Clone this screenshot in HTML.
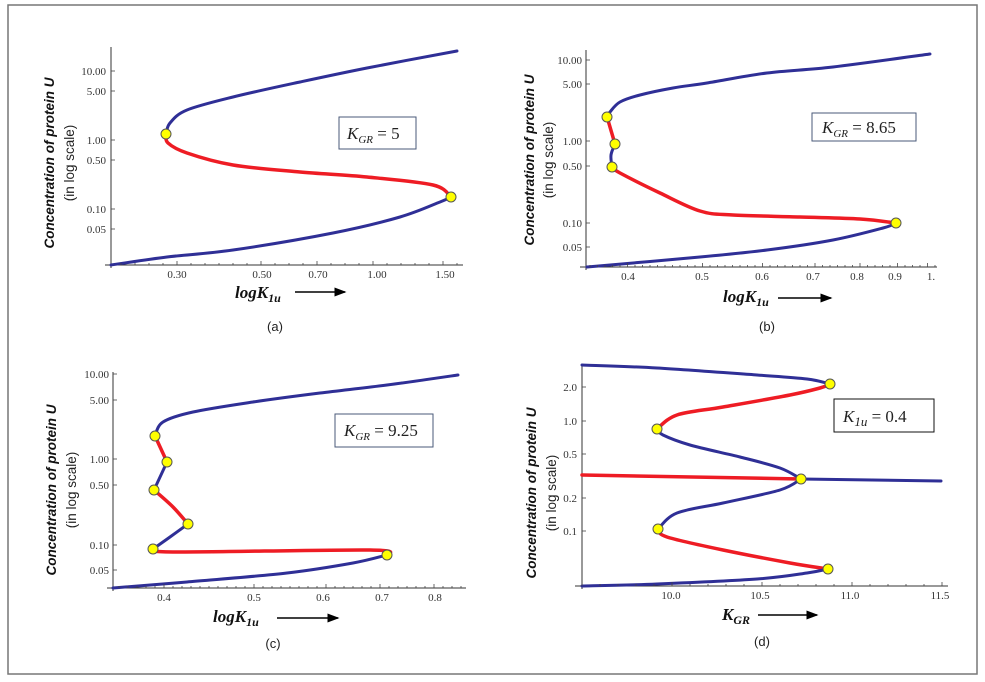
<!DOCTYPE html>
<html><head><meta charset="utf-8"><style>
body{margin:0;background:#fff}
svg{display:block}
.ax{stroke:#333;stroke-width:1;fill:none}
.tk{stroke:#444;stroke-width:0.8}
.b{stroke:#2f2f96;stroke-width:3;fill:none;stroke-linecap:round;stroke-linejoin:round}
.r{stroke:#ee1c24;stroke-width:3.5;fill:none;stroke-linecap:round;stroke-linejoin:round}
.d{fill:#ffff00;stroke:#555;stroke-width:1}
.t{font-family:"Liberation Serif",serif;font-size:11px;fill:#333}
.yl{font-family:"Liberation Sans",sans-serif;font-size:13.5px;font-weight:bold;font-style:italic;fill:#111}
.yl2{font-family:"Liberation Sans",sans-serif;font-size:13.5px;fill:#222}
.xl{font-family:"Liberation Serif",serif;font-size:17px;font-weight:bold;font-style:italic;fill:#111}
.cap{font-family:"Liberation Sans",sans-serif;font-size:13px;fill:#222}
.bx{font-family:"Liberation Serif",serif;font-size:17px;fill:#222}
</style></head><body>
<svg id="s" width="985" height="682" viewBox="0 0 985 682">
<defs><marker id="ar" markerWidth="8" markerHeight="6" refX="7" refY="3" orient="auto"><path d="M0,0 L8,3 L0,6 z" fill="#000"/></marker></defs>
<rect x="8" y="5" width="969" height="669" fill="none" stroke="#777" stroke-width="1.5"/>

<!-- Panel a -->
<line class="ax" x1="111" y1="47" x2="111" y2="268"/>
<line class="ax" x1="105" y1="265" x2="463" y2="265"/>
<g class="t" text-anchor="end">
<text x="106" y="75">10.00</text><text x="106" y="95">5.00</text><text x="106" y="144">1.00</text><text x="106" y="164">0.50</text><text x="106" y="213">0.10</text><text x="106" y="233">0.05</text></g>
<g class="t" text-anchor="middle"><text x="177" y="278">0.30</text><text x="262" y="278">0.50</text><text x="318" y="278">0.70</text><text x="377" y="278">1.00</text><text x="445" y="278">1.50</text></g>
<polyline class="b" points="166,134 170,123 187,110 233,97 300,82 367,68 457,51"/>
<polyline class="r" points="166,134 168,143 187,153 233,165 300,172 367,177 433,185 451,197"/>
<polyline class="b" points="451,197 440,202 400,217 333,233 233,250 167,257 111,265"/>
<circle class="d" cx="166" cy="134" r="5"/><circle class="d" cx="451" cy="197" r="5"/>
<rect x="339" y="117" width="77" height="32" fill="#fff" stroke="#4a5a7a"/>
<text class="bx" x="347" y="139"><tspan font-style="italic">K</tspan><tspan font-size="11" font-style="italic" dy="4">GR</tspan><tspan dy="-4"> = 5</tspan></text>
<text class="yl" transform="translate(54,163) rotate(-90)" text-anchor="middle">Concentration of protein U</text>
<text class="yl2" transform="translate(74,163) rotate(-90)" text-anchor="middle">(in log scale)</text>
<text class="xl" x="235" y="298">logK<tspan font-size="12" dy="4">1u</tspan></text>
<line x1="295" y1="292" x2="345" y2="292" stroke="#000" stroke-width="1.5" marker-end="url(#ar)"/>
<text class="cap" x="275" y="331" text-anchor="middle">(a)</text>

<!-- Panel b -->
<line class="ax" x1="586" y1="50" x2="586" y2="270"/>
<line class="ax" x1="580" y1="267" x2="937" y2="267"/>
<g class="t" text-anchor="end">
<text x="582" y="64">10.00</text><text x="582" y="88">5.00</text><text x="582" y="145">1.00</text><text x="582" y="170">0.50</text><text x="582" y="227">0.10</text><text x="582" y="251">0.05</text></g>
<g class="t" text-anchor="middle"><text x="628" y="280">0.4</text><text x="702" y="280">0.5</text><text x="762" y="280">0.6</text><text x="813" y="280">0.7</text><text x="857" y="280">0.8</text><text x="895" y="280">0.9</text><text x="931" y="280">1.</text></g>
<polyline class="b" points="607,117 610,112 620,102 640,95 673,88 707,83 767,73 833,67 930,54"/>
<polyline class="r" points="607,117 610,127 615,144"/>
<polyline class="b" points="615,144 611,155 612,167"/>
<polyline class="r" points="612,167 620,173 660,193 700,211 733,215 800,217 860,219 896,223"/>
<polyline class="b" points="896,223 883,228 833,240 767,250 700,257 587,267"/>
<circle class="d" cx="607" cy="117" r="5"/><circle class="d" cx="615" cy="144" r="5"/><circle class="d" cx="612" cy="167" r="5"/><circle class="d" cx="896" cy="223" r="5"/>
<rect x="812" y="113" width="104" height="28" fill="#fff" stroke="#4a5a7a"/>
<text class="bx" x="822" y="133"><tspan font-style="italic">K</tspan><tspan font-size="11" font-style="italic" dy="4">GR</tspan><tspan dy="-4"> = 8.65</tspan></text>
<text class="yl" transform="translate(534,160) rotate(-90)" text-anchor="middle">Concentration of protein U</text>
<text class="yl2" transform="translate(553,160) rotate(-90)" text-anchor="middle">(in log scale)</text>
<text class="xl" x="723" y="302">logK<tspan font-size="12" dy="4">1u</tspan></text>
<line x1="778" y1="298" x2="831" y2="298" stroke="#000" stroke-width="1.5" marker-end="url(#ar)"/>
<text class="cap" x="767" y="331" text-anchor="middle">(b)</text>

<!-- Panel c -->
<line class="ax" x1="113" y1="372" x2="113" y2="591"/>
<line class="ax" x1="107" y1="588" x2="466" y2="588"/>
<g class="t" text-anchor="end">
<text x="109" y="378">10.00</text><text x="109" y="404">5.00</text><text x="109" y="463">1.00</text><text x="109" y="489">0.50</text><text x="109" y="549">0.10</text><text x="109" y="574">0.05</text></g>
<g class="t" text-anchor="middle"><text x="164" y="601">0.4</text><text x="254" y="601">0.5</text><text x="323" y="601">0.6</text><text x="382" y="601">0.7</text><text x="435" y="601">0.8</text></g>
<polyline class="b" points="155,436 163,422 193,412 253,402 320,393 387,385 458,375"/>
<polyline class="r" points="155,436 167,462"/>
<polyline class="b" points="167,462 154,490"/>
<polyline class="r" points="154,490 173,507 188,524"/>
<polyline class="b" points="188,524 170,537 153,549"/>
<polyline class="r" points="153,549 177,552 370,550 387,555"/>
<polyline class="b" points="387,555 353,563 287,573 187,582 113,588"/>
<circle class="d" cx="155" cy="436" r="5"/><circle class="d" cx="167" cy="462" r="5"/><circle class="d" cx="154" cy="490" r="5"/><circle class="d" cx="188" cy="524" r="5"/><circle class="d" cx="153" cy="549" r="5"/><circle class="d" cx="387" cy="555" r="5"/>
<rect x="335" y="414" width="98" height="33" fill="#fff" stroke="#4a5a7a"/>
<text class="bx" x="344" y="436"><tspan font-style="italic">K</tspan><tspan font-size="11" font-style="italic" dy="4">GR</tspan><tspan dy="-4"> = 9.25</tspan></text>
<text class="yl" transform="translate(56,490) rotate(-90)" text-anchor="middle">Concentration of protein U</text>
<text class="yl2" transform="translate(76,490) rotate(-90)" text-anchor="middle">(in log scale)</text>
<text class="xl" x="213" y="622">logK<tspan font-size="12" dy="4">1u</tspan></text>
<line x1="277" y1="618" x2="338" y2="618" stroke="#000" stroke-width="1.5" marker-end="url(#ar)"/>
<text class="cap" x="273" y="648" text-anchor="middle">(c)</text>

<!-- Panel d -->
<line class="ax" x1="582" y1="364" x2="582" y2="589"/>
<line class="ax" x1="575" y1="586" x2="948" y2="586"/>
<g class="t" text-anchor="end">
<text x="577" y="391">2.0</text><text x="577" y="425">1.0</text><text x="577" y="458">0.5</text><text x="577" y="502">0.2</text><text x="577" y="535">0.1</text></g>
<g class="t" text-anchor="middle"><text x="671" y="599">10.0</text><text x="760" y="599">10.5</text><text x="850" y="599">11.0</text><text x="940" y="599">11.5</text></g>
<polyline class="b" points="582,365 657,368 757,375 807,379 830,384"/>
<polyline class="r" points="830,384 820,388 790,395 723,407 677,415 657,429"/>
<polyline class="b" points="657,429 663,435 690,445 740,457 780,468 801,479"/>
<polyline class="b" points="801,479 941,481"/>
<polyline class="r" points="582,475 801,479"/>
<polyline class="b" points="801,479 780,490 723,503 677,513 658,529"/>
<polyline class="r" points="658,529 667,537 723,550 790,563 828,569"/>
<polyline class="b" points="828,569 807,573 757,579 657,584 582,586"/>
<circle class="d" cx="830" cy="384" r="5"/><circle class="d" cx="657" cy="429" r="5"/><circle class="d" cx="801" cy="479" r="5"/><circle class="d" cx="658" cy="529" r="5"/><circle class="d" cx="828" cy="569" r="5"/>
<rect x="834" y="399" width="100" height="33" fill="#fff" stroke="#111"/>
<text class="bx" x="843" y="422" font-size="18"><tspan font-style="italic">K</tspan><tspan font-size="13" font-style="italic" dy="4">1u</tspan><tspan dy="-4"> = 0.4</tspan></text>
<text class="yl" transform="translate(536,493) rotate(-90)" text-anchor="middle">Concentration of protein U</text>
<text class="yl2" transform="translate(556,493) rotate(-90)" text-anchor="middle">(in log scale)</text>
<text class="xl" x="722" y="620">K<tspan font-size="12" dy="4">GR</tspan></text>
<line x1="758" y1="615" x2="817" y2="615" stroke="#000" stroke-width="1.5" marker-end="url(#ar)"/>
<text class="cap" x="762" y="646" text-anchor="middle">(d)</text>
<g id="ticks"></g>
</svg>
<script>
(function(){
var NS="http://www.w3.org/2000/svg",s=document.getElementById('s');
// smooth polylines (Catmull-Rom)
s.querySelectorAll('polyline').forEach(function(pl){
  var p=pl.getAttribute('points').trim().split(/\s+/).map(function(q){return q.split(',').map(Number);});
  if(p.length<3)return;
  var d="M"+p[0][0]+","+p[0][1];
  for(var i=0;i<p.length-1;i++){
    var p0=p[i-1]||p[i],p1=p[i],p2=p[i+1],p3=p[i+2]||p2;
    var c1=[p1[0]+(p2[0]-p0[0])/6,p1[1]+(p2[1]-p0[1])/6],c2=[p2[0]-(p3[0]-p1[0])/6,p2[1]-(p3[1]-p1[1])/6];
    d+=" C"+c1[0].toFixed(1)+","+c1[1].toFixed(1)+" "+c2[0].toFixed(1)+","+c2[1].toFixed(1)+" "+p2[0]+","+p2[1];
  }
  var path=document.createElementNS(NS,'path');path.setAttribute('d',d);path.setAttribute('class',pl.getAttribute('class'));
  pl.parentNode.replaceChild(path,pl);
});
// move dots to top
s.querySelectorAll('circle').forEach(function(c){s.appendChild(c);});
var g=document.getElementById('ticks');
function ln(x1,y1,x2,y2){var l=document.createElementNS(NS,'line');l.setAttribute('x1',x1);l.setAttribute('y1',y1);l.setAttribute('x2',x2);l.setAttribute('y2',y2);l.setAttribute('class','tk');g.appendChild(l);}
function xt(ax,y,xs,step,x0,x1){for(var x=x0;x<=x1;x+=step){var maj=xs.some(function(v){return Math.abs(v-x)<step/2;});ln(x,y,x,y-(maj?4:2));}}
function yt(x,ys){ys.forEach(function(y){ln(x,y,x+4,y);});}
yt(111,[71,91,140,160,209,229]);yt(586,[60,84,141,166,223,247]);yt(113,[374,400,459,485,545,570]);yt(582,[387,421,454,498,531]);
xt(0,265,[177,262,318,377,445],14,121,460);
xt(0,267,[628,702,762,813,857,895,931],7.5,590,935);
xt(0,588,[164,254,323,382,435],9,119,464);
xt(0,586,[671,760,850,940],18,582,945);
})();
</script>
</body></html>
